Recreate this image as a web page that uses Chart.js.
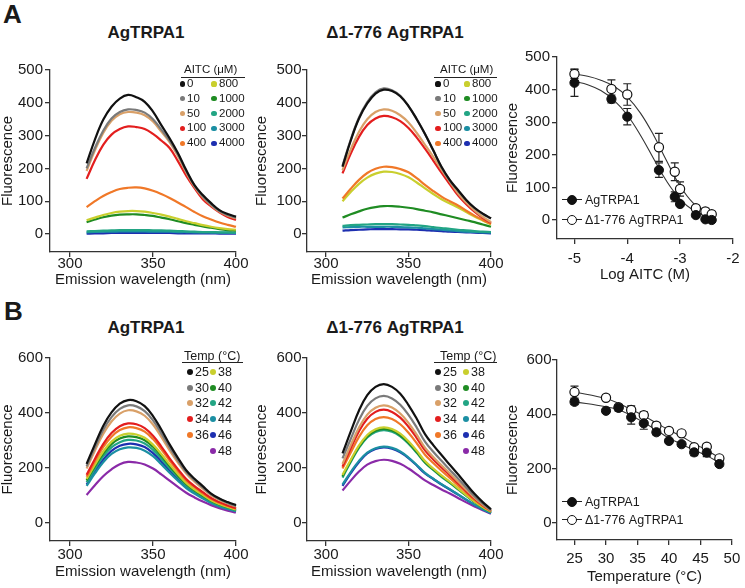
<!DOCTYPE html>
<html lang="en">
<head>
<meta charset="UTF-8">
<title>AgTRPA1 fluorescence</title>
<script src="https://cdn.jsdelivr.net/npm/chart.js@4.4.0/dist/chart.umd.min.js"></script>
<style>
    body { margin: 0; width: 745px; height: 588px; position: relative; overflow: hidden; background: #fff;
           font-family: "Liberation Sans", Arial, sans-serif; color: #1a1a1a; }
    canvas { position: absolute; }
    .abs { position: absolute; white-space: nowrap; line-height: 1; }
    .letter { font-weight: bold; font-size: 26px; }
    .ptitle { font-weight: bold; font-size: 17px; transform: translate(-50%, -50%); }
    .mid { transform: translateY(-50%); }
</style>
</head>
<body>
<div class="abs letter" style="left:3px; top:1px">A</div>
<div class="abs letter" style="left:4px; top:298px">B</div>
<div class="abs ptitle" style="left:146px; top:32px">AgTRPA1</div>
<div class="abs ptitle" style="left:395px; top:32px">Δ1-776 AgTRPA1</div>
<div class="abs ptitle" style="left:146px; top:327px">AgTRPA1</div>
<div class="abs ptitle" style="left:395px; top:327px">Δ1-776 AgTRPA1</div>

<canvas id="cA1" width="250" height="235" style="left:0; top:55px"></canvas>
<canvas id="cA2" width="250" height="235" style="left:254px; top:55px"></canvas>
<canvas id="cA3" width="240" height="243" style="left:505px; top:42px"></canvas>
<canvas id="cB1" width="250" height="239" style="left:0; top:343px"></canvas>
<canvas id="cB2" width="250" height="239" style="left:254px; top:343px"></canvas>
<canvas id="cB3" width="240" height="242" style="left:505px; top:345px"></canvas>

<script>
// emission spectra, 310-400 nm every 5 nm
const wavelengths = [310, 315, 320, 325, 330, 335, 340, 345, 350, 355, 360, 365, 370, 375, 380, 385, 390, 395, 400];

// tick labels
const wavelengthTicks = [300, 350, 400];
const aitcFluorTicks = [0, 100, 200, 300, 400, 500];
const tempFluorTicks = [0, 200, 400, 600];
const logAitcTicks = [-5, -4, -3, -2];
const temperatureTicks = [25, 30, 35, 40, 45, 50];

const aitcLabels = ['0', '10', '50', '100', '400', '800', '1000', '2000', '3000', '4000'];
const aitcColors = ['#111111', '#7a7a7a', '#d9a068', '#e31e1e', '#f07828', '#c9cf2e', '#1f8c23', '#22a584', '#1b8fa3', '#1d2fb0'];

const aitcWT = [
    [215, 288, 348, 388, 413, 424, 417, 403, 373, 332, 292, 247, 195, 149, 119, 94, 73, 61, 53],
    [200, 262, 315, 352, 372, 380, 378, 370, 350, 318, 285, 243, 192, 147, 115, 90, 70, 58, 50],
    [192, 255, 308, 345, 365, 372, 370, 362, 343, 312, 280, 238, 188, 144, 112, 88, 68, 56, 48],
    [168, 225, 272, 303, 320, 328, 326, 320, 305, 285, 262, 222, 178, 140, 106, 84, 66, 52, 43],
    [82, 100, 116, 128, 137, 141, 142, 139, 132, 122, 110, 96, 82, 67, 54, 44, 35, 28, 22],
    [42, 50, 58, 64, 68, 70, 70, 68, 64, 59, 53, 46, 39, 33, 27, 22, 18, 15, 13],
    [36, 44, 51, 56, 59, 60, 60, 58, 55, 50, 45, 39, 33, 28, 23, 19, 15, 12, 10],
    [8, 9, 10, 11, 12, 12, 12, 12, 11, 11, 10, 9, 8, 7, 6, 6, 5, 5, 4],
    [5, 6, 7, 7, 8, 8, 8, 8, 7, 7, 7, 6, 6, 5, 5, 4, 4, 4, 3],
    [1, 2, 2, 3, 3, 3, 3, 3, 3, 3, 3, 2, 2, 2, 2, 2, 1, 1, 1]
];

const aitcDel = [
    [205, 285, 352, 398, 428, 440, 436, 420, 390, 350, 305, 255, 205, 165, 134, 104, 80, 62, 48],
    [208, 288, 355, 402, 432, 444, 438, 421, 390, 350, 305, 255, 203, 163, 132, 103, 79, 61, 47],
    [195, 258, 312, 350, 372, 380, 376, 362, 340, 308, 272, 235, 196, 160, 124, 96, 72, 52, 36],
    [185, 245, 296, 332, 352, 360, 356, 344, 323, 294, 260, 224, 187, 152, 118, 91, 68, 49, 34],
    [108, 138, 165, 186, 199, 205, 204, 198, 188, 170, 150, 131, 114, 100, 87, 71, 56, 43, 31],
    [100, 128, 153, 172, 184, 190, 189, 183, 173, 157, 139, 122, 106, 93, 81, 67, 53, 41, 29],
    [50, 60, 69, 77, 82, 85, 85, 83, 80, 76, 71, 66, 60, 54, 48, 42, 36, 29, 22],
    [25, 27, 28, 29, 30, 30, 30, 29, 28, 26, 24, 21, 18, 16, 13, 11, 9, 7, 6],
    [20, 21, 22, 22, 22, 22, 22, 21, 20, 19, 17, 15, 13, 11, 9, 7, 6, 5, 4],
    [10, 12, 13, 14, 15, 15, 15, 14, 14, 13, 12, 10, 9, 7, 6, 5, 4, 3, 2]
];

const tempLabels = ['25', '30', '32', '34', '36', '38', '40', '42', '44', '46', '48'];
const tempColors = ['#111111', '#7a7a7a', '#d9a068', '#e31e1e', '#f07828', '#c9cf2e', '#1f8c23', '#22a584', '#1b8fa3', '#1d2fb0', '#8a2aa8'];

const tempWT = [
    [215, 286, 353, 402, 434, 447, 443, 425, 389, 340, 286, 237, 192, 161, 134, 107, 89, 76, 65],
    [206, 274, 338, 385, 415, 428, 424, 407, 373, 326, 275, 228, 186, 156, 129, 104, 87, 73, 62],
    [198, 263, 324, 369, 398, 410, 406, 390, 358, 313, 264, 220, 180, 150, 125, 101, 84, 71, 60],
    [175, 233, 287, 327, 352, 362, 359, 345, 317, 278, 235, 196, 160, 134, 112, 91, 76, 64, 54],
    [168, 224, 276, 314, 338, 348, 345, 332, 305, 268, 227, 189, 155, 130, 108, 88, 73, 62, 52],
    [160, 212, 260, 296, 317, 325, 322, 310, 285, 251, 213, 178, 146, 122, 102, 83, 69, 58, 49],
    [155, 206, 252, 287, 307, 315, 312, 301, 277, 244, 207, 173, 142, 119, 99, 81, 67, 57, 48],
    [148, 197, 242, 275, 294, 302, 300, 289, 266, 234, 199, 167, 137, 115, 96, 78, 65, 55, 46],
    [135, 180, 221, 251, 268, 275, 273, 263, 243, 214, 183, 154, 127, 107, 89, 73, 60, 51, 43],
    [140, 187, 230, 262, 281, 288, 286, 276, 254, 224, 191, 160, 132, 111, 92, 75, 62, 53, 44],
    [102, 137, 170, 195, 214, 222, 220, 213, 198, 177, 154, 131, 110, 93, 78, 65, 54, 45, 38]
];

const tempDel = [
    [253, 333, 409, 465, 495, 505, 495, 470, 429, 379, 323, 283, 247, 212, 177, 141, 106, 76, 50],
    [235, 306, 375, 426, 453, 462, 453, 430, 393, 347, 296, 259, 226, 194, 162, 129, 97, 70, 47],
    [215, 283, 347, 394, 419, 428, 420, 398, 364, 321, 274, 240, 210, 181, 151, 121, 92, 67, 45],
    [205, 272, 334, 379, 404, 412, 404, 383, 350, 309, 264, 231, 202, 174, 145, 116, 88, 64, 44],
    [198, 256, 313, 355, 378, 385, 378, 359, 328, 290, 248, 218, 190, 164, 137, 110, 84, 62, 43],
    [175, 230, 282, 320, 341, 348, 342, 325, 297, 263, 225, 198, 173, 150, 126, 101, 78, 58, 41],
    [170, 226, 277, 315, 335, 342, 336, 319, 292, 258, 221, 195, 170, 148, 124, 100, 77, 57, 40],
    [165, 222, 273, 311, 331, 338, 332, 315, 288, 255, 219, 193, 168, 146, 122, 99, 76, 57, 40],
    [140, 185, 226, 256, 272, 278, 273, 260, 238, 211, 182, 161, 141, 123, 104, 85, 66, 50, 36],
    [135, 181, 222, 253, 269, 275, 270, 257, 236, 209, 180, 160, 140, 122, 103, 84, 66, 50, 36],
    [118, 154, 187, 212, 225, 230, 226, 215, 198, 177, 155, 138, 122, 107, 91, 75, 60, 46, 34]
];

// dose response (log M)
const logAitc = [-5, -4.3, -4, -3.4, -3.1, -3, -2.7, -2.52, -2.4];
const doseWT = [421, 371, 317, 153, 71, 49, 15, 2, 0];
const doseWTErr = [42, 12, 25, 22, 15, 6, 6, 4, 3];
const doseDel = [448, 402, 385, 223, 148, 95, 36, 26, 18];
const doseDelErr = [14, 28, 33, 43, 27, 22, 8, 10, 5];
const fitLogAitc = [-5, -4.75, -4.5, -4.25, -4, -3.75, -3.5, -3.25, -3, -2.75, -2.5, -2.4];
const fitDoseWT = [425, 415, 397, 367, 322, 260, 188, 118, 64, 30, 13, 9];
const fitDoseDel = [448, 441, 429, 410, 378, 328, 260, 180, 105, 52, 25, 19];

// temperature response
const temps = [25, 30, 32, 34, 36, 38, 40, 42, 44, 46, 48];
const tempPeakWT = [446, 413, 424, 389, 367, 334, 302, 290, 260, 259, 217];
const tempPeakWTErr = [10, 8, 12, 25, 22, 10, 8, 8, 12, 15, 8];
const tempPeakDel = [482, 461, 426, 416, 397, 358, 339, 330, 279, 281, 238];
const tempPeakDelErr = [22, 10, 8, 15, 12, 12, 8, 8, 8, 10, 8];
const fitTempWT = [446, 428, 417, 396, 370, 342, 312, 290, 268, 248, 222];
const fitTempDel = [482, 458, 440, 418, 395, 368, 342, 318, 292, 268, 240];

Chart.defaults.font.family = '"Liberation Sans", Arial, sans-serif';
Chart.defaults.color = '#1a1a1a';

const errorBars = {
    id: 'errorBars',
    beforeDatasetsDraw(chart) {
        const ctx = chart.ctx;
        const xs = chart.scales.x;
        const ys = chart.scales.y;
        ctx.save();
        ctx.strokeStyle = '#222';
        ctx.lineWidth = 1.2;
        chart.data.datasets.forEach(ds => {
            if (!ds.errors) return;
            ds.data.forEach((pt, i) => {
                const e = ds.errors[i];
                if (!e) return;
                const px = xs.getPixelForValue(pt.x);
                const top = ys.getPixelForValue(pt.y + e);
                const bot = ys.getPixelForValue(pt.y - e);
                ctx.beginPath();
                ctx.moveTo(px, top); ctx.lineTo(px, bot);
                ctx.moveTo(px - 4, top); ctx.lineTo(px + 4, top);
                ctx.moveTo(px - 4, bot); ctx.lineTo(px + 4, bot);
                ctx.stroke();
            });
        });
        ctx.restore();
    }
};

function xy(xs, ys) {
    return ys.map((v, i) => ({ x: xs[i], y: v }));
}

// axis line + outward tick marks, with the range stretched a little past the data so the axes sit apart
function axis(lo, hi, ticks, pad, extra) {
    return Object.assign({
        type: 'linear', min: lo, max: hi,
        grid: { display: true, drawOnChartArea: false, drawTicks: true, tickLength: 5, color: '#333', lineWidth: 1.3 },
        border: { display: true, color: '#333', width: 1.3 },
        ticks: { padding: pad, maxRotation: 0, autoSkip: false, font: { size: 15 } },
        afterBuildTicks: s => { s.ticks = ticks.map(v => ({ value: v })); }
    }, extra);
}

function axesOptions(p) {
    return {
        responsive: false,
        animation: false,
        devicePixelRatio: 1,
        events: [],
        layout: { padding: { top: p.top, right: p.right, left: 0, bottom: 0 } },
        plugins: { legend: { display: false }, tooltip: { enabled: false } },
        scales: {
            x: axis(p.xLo, p.xHi, p.xTicks, p.xPad, {
                title: { display: true, text: p.xTitle, font: { size: 15, lineHeight: 1 }, padding: { top: 0, bottom: 2.5 } },
                afterFit: s => { s.height = p.xH; }
            }),
            y: axis(p.yLo, p.yHi, p.yTicks, p.yPad, {
                title: { display: true, text: 'Fluorescence', font: { size: 15, lineHeight: 1 }, padding: 0 },
                afterFit: s => { s.width = p.yW; }
            })
        }
    };
}

function spectra(rows, colors) {
    return rows.map((vals, i) => ({
        data: xy(wavelengths, vals),
        borderColor: colors[i],
        borderWidth: 2.2,
        pointRadius: 0,
        tension: 0.4,
        clip: false
    }));
}

function doseSets(xs, wt, wtErr, del, delErr, fitXs, fitWt, fitDel) {
    return [
        { data: xy(xs, wt), errors: wtErr, showLine: false, pointRadius: 4.6,
          pointBackgroundColor: '#111', pointBorderColor: '#111', pointBorderWidth: 1, clip: false },
        { data: xy(xs, del), errors: delErr, showLine: false, pointRadius: 4.6,
          pointBackgroundColor: '#fff', pointBorderColor: '#111', pointBorderWidth: 1.2, clip: false },
        { data: xy(fitXs, fitWt), borderColor: '#333', borderWidth: 1.1, pointRadius: 0, tension: 0.4, clip: false },
        { data: xy(fitXs, fitDel), borderColor: '#333', borderWidth: 1.1, pointRadius: 0, tension: 0.4, clip: false }
    ];
}

function panel(id, datasets, p) {
    return new Chart(document.getElementById(id), {
        type: 'line',
        data: { datasets },
        options: axesOptions(p),
        plugins: [errorBars]
    });
}

const emission = 'Emission wavelength (nm)';

panel('cA1', spectra(aitcWT, aitcColors),
      { top: 15, right: 14, yW: 50, xH: 38, xLo: 287.95, xHi: 400, xTicks: wavelengthTicks, xPad: -2,
        yLo: -54.9, yHi: 500, yTicks: aitcFluorTicks, yPad: 2, xTitle: emission });
panel('cA2', spectra(aitcDel, aitcColors),
      { top: 15, right: 13, yW: 53, xH: 38, xLo: 288.48, xHi: 400, xTicks: wavelengthTicks, xPad: -2,
        yLo: -54.9, yHi: 500, yTicks: aitcFluorTicks, yPad: 0.5, xTitle: emission });
panel('cA3', doseSets(logAitc, doseWT, doseWTErr, doseDel, doseDelErr, fitLogAitc, fitDoseWT, fitDoseDel),
      { top: 15, right: 7, yW: 52, xH: 46, xLo: -5.331, xHi: -2, xTicks: logAitcTicks, xPad: 5.5,
        yLo: -58.3, yHi: 500, yTicks: aitcFluorTicks, yPad: 2, xTitle: 'Log AITC (M)' });
panel('cB1', spectra(tempWT, tempColors),
      { top: 15, right: 14, yW: 50, xH: 41, xLo: 287.95, xHi: 400, xTicks: wavelengthTicks, xPad: 0,
        yLo: -65.5, yHi: 600, yTicks: tempFluorTicks, yPad: 2, xTitle: emission });
panel('cB2', spectra(tempDel, tempColors),
      { top: 15, right: 13, yW: 53, xH: 41, xLo: 288.48, xHi: 400, xTicks: wavelengthTicks, xPad: 0,
        yLo: -65.5, yHi: 600, yTicks: tempFluorTicks, yPad: 0.5, xTitle: emission });
panel('cB3', doseSets(temps, tempPeakWT, tempPeakWTErr, tempPeakDel, tempPeakDelErr, temps, fitTempWT, fitTempDel),
      { top: 15, right: 8, yW: 52, xH: 47, xLo: 22.22, xHi: 50, xTicks: temperatureTicks, xPad: 4.7,
        yLo: -62.6, yHi: 600, yTicks: tempFluorTicks, yPad: 0.5, xTitle: 'Temperature (°C)' });

// colour keys for the spectra panels
function el(cls, css, text) {
    const d = document.createElement('div');
    d.className = 'abs ' + cls;
    d.style.cssText = css;
    if (text !== undefined) d.textContent = text;
    document.body.appendChild(d);
    return d;
}

function makeKey(k) {
    el('mid', `left:${k.hx}px; top:${k.hy}px; font-size:${k.size}px`, k.header);
    el('', `left:${k.ul[0]}px; top:${k.ul[2]}px; width:${k.ul[1] - k.ul[0]}px; height:0; border-top:1.3px solid #222`);
    k.labels.forEach((lab, i) => {
        const col = i < k.split ? 0 : 1;
        const row = col ? i - k.split : i;
        const cy = k.y0 + row * k.rowH;
        const dx = col ? k.dot2 : k.dot1;
        const tx = col ? k.text2 : k.text1;
        el('', `left:${dx - k.r}px; top:${cy - k.r}px; width:${2 * k.r}px; height:${2 * k.r}px; border-radius:50%; background:${k.colors[i]}`);
        el('mid', `left:${tx}px; top:${cy}px; font-size:${k.size}px`, lab);
    });
}

makeKey({ header: 'AITC (μM)', labels: aitcLabels, colors: aitcColors, split: 5, size: 11.5, r: 2.6,
          hx: 184, hy: 70, ul: [181, 245, 76.5], y0: 84, rowH: 14.8, dot1: 182.5, text1: 187, dot2: 214, text2: 219 });
makeKey({ header: 'AITC (μM)', labels: aitcLabels, colors: aitcColors, split: 5, size: 11.5, r: 2.6,
          hx: 440, hy: 70, ul: [434, 497, 76.5], y0: 84, rowH: 14.8, dot1: 438, text1: 443, dot2: 467, text2: 472 });
makeKey({ header: 'Temp (°C)', labels: tempLabels, colors: tempColors, split: 5, size: 12.5, r: 3,
          hx: 184, hy: 356, ul: [182, 243, 362], y0: 372, rowH: 15.7, dot1: 190, text1: 195, dot2: 213, text2: 218 });
makeKey({ header: 'Temp (°C)', labels: tempLabels, colors: tempColors, split: 5, size: 12.5, r: 3,
          hx: 440, hy: 356, ul: [434, 497, 362], y0: 372, rowH: 15.7, dot1: 438, text1: 443, dot2: 466, text2: 471 });

// legends for the summary panels
function makeFitKey(y1, y2) {
    [[y1, '#111', 'AgTRPA1'], [y2, '#fff', 'Δ1-776 AgTRPA1']].forEach(([cy, fill, text]) => {
        el('', `left:562px; top:${cy - 0.6}px; width:20px; height:0; border-top:1.2px solid #222`);
        el('', `left:567px; top:${cy - 5}px; width:8px; height:8px; border-radius:50%; background:${fill}; border:1.2px solid #111`);
        el('mid', `left:585px; top:${cy}px; font-size:12.5px`, text);
    });
}
makeFitKey(200, 220);
makeFitKey(502, 520);
</script>
</body>
</html>
